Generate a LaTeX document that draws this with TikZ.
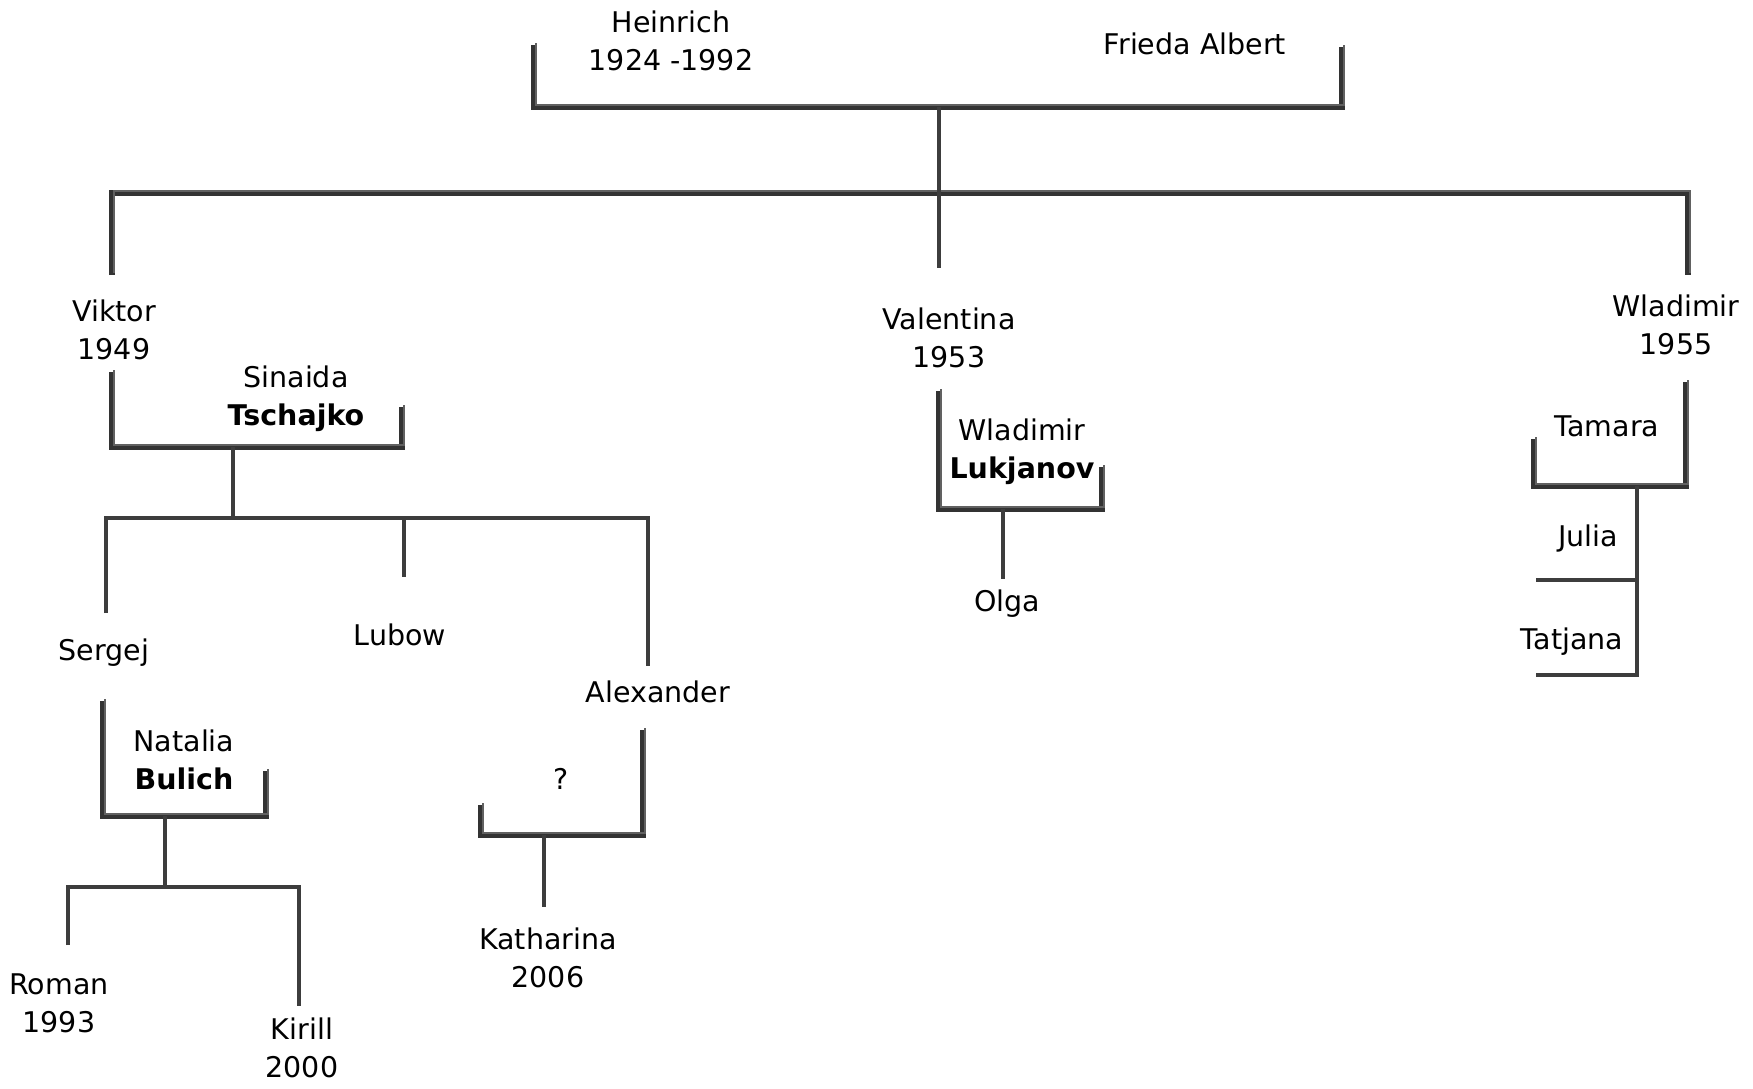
\documentclass[tikz,border=0pt]{standalone}
\usepackage{fontspec}
\setmainfont{DejaVu Sans}
\begin{document}
\begin{tikzpicture}[x=1pt,y=-1pt,
  every node/.style={font=\fontsize{28.5}{38}\selectfont, align=center, inner sep=0pt, text=black},
  thin line/.style={draw=black!76, line width=4.5pt, line cap=butt},
  br/.style={draw=black!80, line width=6.5pt, line join=miter},
  brhl/.style={draw=black!62, line width=2.2pt, shift={(2,-2)}, line join=miter}]
\useasboundingbox (0,0) rectangle (1753,1088);

% ---- text nodes ----
\node (heinrich)  at (671,41)  {Heinrich\\1924 -1992};
\node (frieda)    at (1195,44) {Frieda Albert};
\node (viktor)    at (114,330) {Viktor\\1949};
\node (valentina) at (949,338) {Valentina\\1953};
\node (wladimir)  at (1676,325){Wladimir\\1955};
\node (sinaida)   at (296,399) {Sinaida\\\textbf{Tschajko}};
\node (sergej)    at (104,653) {Sergej};
\node (lubow)     at (400,635) {Lubow};
\node (alexander) at (658,692) {Alexander};
\node (natalia)   at (184,760) {Natalia\\\textbf{Bulich}};
\node (roman)     at (59,1003) {Roman\\1993};
\node (kirill)    at (302,1048){Kirill\\2000};
\node (unknown)   at (561,779) {?};
\node (katharina) at (548,958) {Katharina\\2006};
\node (lukjanov)  at (1022,452){Wladimir\\\textbf{Lukjanov}};
\node (olga)      at (1007,604){Olga};
\node (tamara)    at (1607,426){Tamara};
\node (julia)     at (1588,539){Julia};
\node (tatjana)   at (1572,642){Tatjana};

% ---- couple brackets (3D look) ----
\foreach \p in {
  {(534,45) -- (534,107) -- (1342,107) -- (1342,47)},
  {(112,372) -- (112,447) -- (402,447) -- (402,407)},
  {(103,701) -- (103,816) -- (266,816) -- (266,771)},
  {(643,730) -- (643,835) -- (481,835) -- (481,805)},
  {(939,391) -- (939,509) -- (1102,509) -- (1102,467)},
  {(1686,382) -- (1686,486) -- (1534,486) -- (1534,439)},
  {(112,275) -- (112,193) -- (1688,193) -- (1688,275)}}
{ \draw[br] \p; \draw[brhl] \p; }

% ---- descent lines ----
\draw[thin line] (939,107) -- (939,268);

\draw[thin line] (233,447) -- (233,518);
\draw[thin line] (106,613) -- (106,518) -- (648,518) -- (648,666);
\draw[thin line] (404,518) -- (404,577);

\draw[thin line] (165,816) -- (165,887);
\draw[thin line] (68,945) -- (68,887) -- (299,887) -- (299,1006);

\draw[thin line] (544,835) -- (544,907);

\draw[thin line] (1003,509) -- (1003,579);

\draw[thin line] (1637,486) -- (1637,675) -- (1536,675);
\draw[thin line] (1637,580) -- (1536,580);
\end{tikzpicture}
\end{document}
